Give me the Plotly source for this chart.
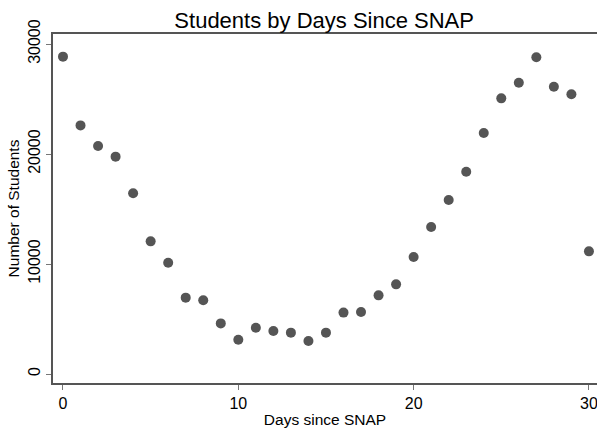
import plotly.graph_objects as go

days = list(range(31))
students = [28850, 22600, 20730, 19760, 16430, 12060, 10120, 6940, 6700, 4600,
            3120, 4210, 3910, 3760, 3000, 3760, 5580, 5640, 7150, 8150,
            10640, 13360, 15820, 18390, 21910, 25060, 26480, 28790, 26120, 25430,
            11150]

x_ticks = [0, 10, 20, 30]
y_ticks = [0, 10000, 20000, 30000]

fig = go.Figure()
fig.add_trace(go.Scatter(
    x=days,
    y=students,
    mode="markers",
    marker=dict(size=10, color="#555555"),
    showlegend=False,
))

font_name = "Liberation Sans, Arial, sans-serif"

fig.update_layout(
    width=597,
    height=428,
    margin=dict(l=53, r=0, t=34, b=45),
    paper_bgcolor="white",
    plot_bgcolor="white",
    font=dict(family=font_name, size=16, color="black"),
    title=dict(
        text="Students by Days Since SNAP",
        x=0.543,
        xanchor="center",
        y=0.953,
        yanchor="middle",
        font=dict(size=22, color="black"),
    ),
)

fig.update_xaxes(
    range=[-0.57, 30.46],
    tickvals=x_ticks,
    tickformat="d",
    ticks="outside",
    ticklen=5,
    tickcolor="#777777",
    ticklabeloverflow="allow",
    showline=True,
    linecolor="#555555",
    linewidth=1.5,
    mirror=True,
    showgrid=False,
    zeroline=False,
    automargin=False,
    title=dict(text="Days since SNAP", standoff=3, font=dict(size=15.5)),
)

fig.update_yaxes(
    range=[-818, 30909],
    tickvals=y_ticks,
    tickformat="d",
    ticks="outside",
    ticklen=5,
    tickcolor="#777777",
    tickangle=-90,
    showline=True,
    linecolor="#555555",
    linewidth=1.5,
    showgrid=False,
    zeroline=False,
    automargin=False,
    title=dict(text="Number of Students", standoff=2, font=dict(size=15.5)),
)

fig.write_html("out.html", config={"displayModeBar": False},
               post_script="document.body.style.margin='0';")
